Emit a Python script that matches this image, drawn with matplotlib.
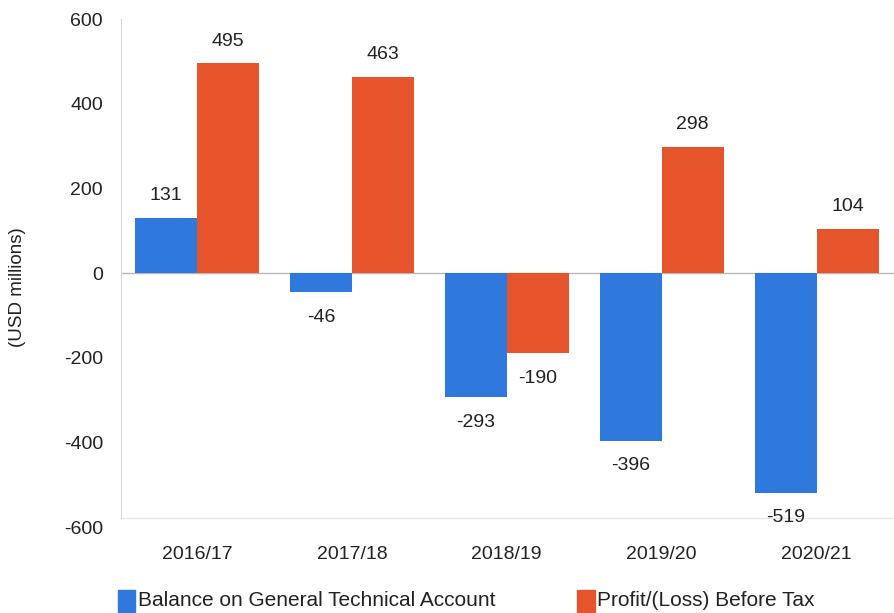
import matplotlib
matplotlib.use("Agg")
import matplotlib.pyplot as plt
from matplotlib.patches import Rectangle
import numpy as np

plt.rcParams['font.family'] = ['Liberation Sans', 'DejaVu Sans']

years = ["2016/17", "2017/18", "2018/19", "2019/20", "2020/21"]
balance = [131, -46, -293, -396, -519]
profit = [495, 463, -190, 298, 104]
series_names = ["Balance on General Technical Account", "Profit/(Loss) Before Tax"]
y_ticks = [-600, -400, -200, 0, 200, 400, 600]

blue = "#2f78de"
orange = "#e6542b"
text_color = "#222222"
fs = 14

fig = plt.figure(figsize=(8.94, 6.13), dpi=100)
ax = fig.add_axes([121 / 894, 1 - 527 / 613, (894 - 121) / 894, (527 - 19) / 613])

x = np.arange(len(years))
w = 0.4
b1 = ax.bar(x - w / 2, balance, w, color=blue, label=series_names[0], zorder=2)
b2 = ax.bar(x + w / 2, profit, w, color=orange, label=series_names[1], zorder=2)

for bars, vals in ((b1, balance), (b2, profit)):
    for rect, v in zip(bars, vals):
        cx = rect.get_x() + rect.get_width() / 2
        dy = 16 if v >= 0 else -18
        ax.annotate(f"{v}", (cx, v), xytext=(0, dy), textcoords="offset points",
                    ha="center", va="center", fontsize=fs, color=text_color)

ax.axhline(0, color="#b8b8b8", lw=1, zorder=1)
ax.axhline(-578, color="#e6e6e6", lw=1, zorder=1)
ax.set_ylim(-600, 600)
ax.set_xlim(-0.49, 4.5)
ax.set_yticks(y_ticks)
ax.set_yticklabels([str(t) for t in y_ticks], fontsize=fs, color=text_color)
ax.set_xticks(x)
ax.set_xticklabels(years, fontsize=fs, color=text_color)
ax.tick_params(axis="y", length=0, pad=13)
ax.tick_params(axis="x", length=0, pad=14)
for s in ("top", "right", "bottom"):
    ax.spines[s].set_visible(False)
ax.spines["left"].set_color("#d8d8d8")
ax.spines["left"].set_bounds(-578, 600)

fig.text(18 / 894, 1 - 287 / 613, "(USD millions)", rotation=90, ha="center", va="center",
         fontsize=13.5, color=text_color)

# legend entries placed under the category labels
fig.patches.append(Rectangle((118 / 894, 1 - 612 / 613), 17 / 894, 22 / 613,
                             transform=fig.transFigure, color=blue))
fig.text(138 / 894, 1 - 601 / 613, series_names[0], fontsize=15, va="center", color=text_color)
fig.patches.append(Rectangle((577 / 894, 1 - 612 / 613), 18 / 894, 22 / 613,
                             transform=fig.transFigure, color=orange))
fig.text(597 / 894, 1 - 601 / 613, series_names[1], fontsize=15, va="center", color=text_color)

fig.savefig("out.png", dpi=100)
